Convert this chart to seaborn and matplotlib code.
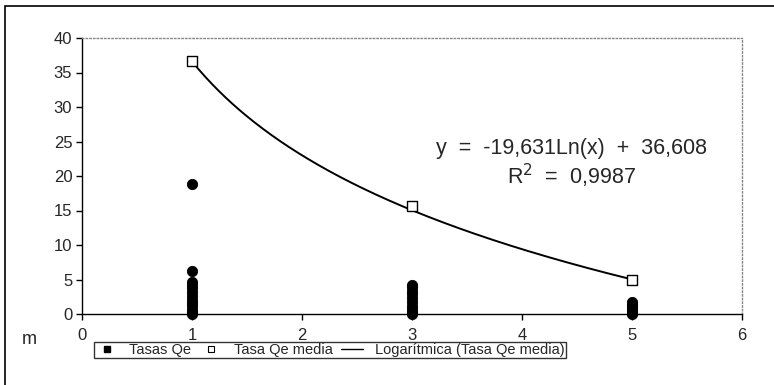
import numpy as np
import pandas as pd
import matplotlib
matplotlib.use("Agg")
import matplotlib.pyplot as plt
import seaborn as sns
from matplotlib.lines import Line2D
from matplotlib.patches import Rectangle

# data
m_tasas = [1] * 13 + [3] * 10 + [5] * 7
tasas_qe = [18.8, 6.2, 4.6, 4.2, 3.8, 3.2, 2.6, 2.1, 1.6, 1.1, 0.6, 0.3, 0.0,
            4.2, 3.9, 3.4, 2.9, 2.3, 1.8, 1.2, 0.7, 0.3, 0.0,
            1.8, 1.5, 1.2, 0.9, 0.5, 0.2, 0.0]
m_media = [1, 3, 5]
tasa_media = [36.6, 15.6, 4.9]

# trend line coefficients as printed on the chart
coef_a = -19.631
coef_b = 36.608
r2_text = "0,9987"

sns.set_style("white")
plt.rcParams["font.family"] = ["Liberation Sans", "DejaVu Sans"]

fig = plt.figure(figsize=(7.74, 3.85), dpi=100)
ax = fig.add_axes([82 / 774, 1 - 314 / 385, 660 / 774, 276 / 385])

df_t = pd.DataFrame({"m": m_tasas, "q": tasas_qe})
df_m = pd.DataFrame({"m": m_media, "q": tasa_media})
x_fit = np.linspace(1, 5, 200)
df_fit = pd.DataFrame({"m": x_fit, "q": coef_a * np.log(x_fit) + coef_b})

sns.lineplot(data=df_fit, x="m", y="q", ax=ax, color="black", lw=1.4)
sns.scatterplot(data=df_t, x="m", y="q", ax=ax, color="black", marker="o",
                s=55, edgecolor="black", zorder=3, clip_on=False)
sns.scatterplot(data=df_m, x="m", y="q", ax=ax, marker="s", s=48,
                facecolor="white", edgecolor="black", linewidth=1, zorder=4)

ax.set_xlim(0, 6)
ax.set_ylim(0, 40)
ax.set_xticks(range(0, 7))
ax.set_yticks(range(0, 41, 5))
ax.set_xlabel("")
ax.set_ylabel("")
ax.tick_params(axis="both", labelsize=12, length=4, width=1, color="black",
               direction="out", bottom=True, left=True, pad=6)
ax.tick_params(axis="y", pad=3)

for s in ["left", "bottom"]:
    ax.spines[s].set_color("black")
    ax.spines[s].set_linewidth(1)
for s in ["top", "right"]:
    ax.spines[s].set_color("#888888")
    ax.spines[s].set_linestyle(":")
    ax.spines[s].set_linewidth(1)

ax.text(0.742, 0.60, f"y  =  {coef_a:.3f}Ln(x)  +  {coef_b:.3f}".replace(".", ","),
        transform=ax.transAxes, ha="center", va="center", fontsize=15.5)
ax.text(0.742, 0.50, f"R$^2$  =  {r2_text}", transform=ax.transAxes,
        ha="center", va="center", fontsize=15.5)

fig.text(22 / 774, 1 - 340 / 385, "m", fontsize=13, ha="left", va="center")

handles = [
    Line2D([], [], marker="s", color="black", ls="none", markersize=5),
    Line2D([], [], marker="s", color="black", markerfacecolor="white",
           ls="none", markersize=5, markeredgewidth=0.8),
    Line2D([], [], color="black", lw=1),
]
labels = ["Tasas Qe", "Tasa Qe media", "Logarítmica (Tasa Qe media)"]
leg = fig.legend(handles, labels, ncol=3, loc="center",
                 bbox_to_anchor=(330 / 774, 1 - 350 / 385), fontsize=10.5,
                 frameon=True, fancybox=False, edgecolor="black",
                 handlelength=1.5, columnspacing=0.6, handletextpad=0.8,
                 borderpad=0.1, borderaxespad=0)
leg.get_frame().set_linewidth(1)

fig.patches.append(Rectangle((5 / 774, -0.1), 2, 1 - 6 / 385 + 0.1,
                             transform=fig.transFigure, fill=False,
                             edgecolor="black", lw=1.2))

fig.savefig("out.png", dpi=100)
